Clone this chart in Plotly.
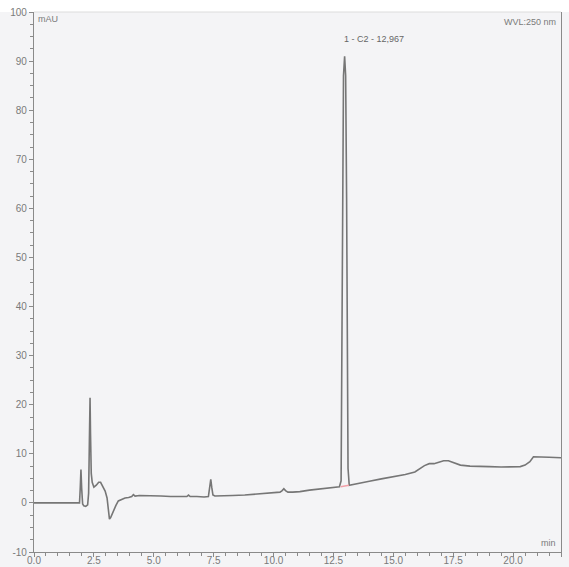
import plotly.graph_objects as go

# Retention time (min) and absorbance (mAU)
time_min = [0.0, 1.50, 1.90, 1.93, 1.96, 1.99, 2.03, 2.08, 2.16, 2.24, 2.28, 2.31, 2.34, 2.36,
            2.39, 2.43, 2.50, 2.60, 2.70, 2.78, 2.88, 2.97, 3.05, 3.10, 3.15, 3.20, 3.31,
            3.42, 3.52, 3.65, 3.80, 3.95, 4.08, 4.15, 4.22, 4.40, 4.70, 4.97, 5.30, 5.70,
            6.10, 6.38, 6.45, 6.52, 6.80, 7.10, 7.28, 7.34, 7.38, 7.42, 7.47, 7.55, 7.90,
            8.30, 8.80, 9.30, 9.70, 10.00, 10.27, 10.36, 10.43, 10.50, 10.60, 10.80,
            11.10, 11.50, 12.00, 12.40, 12.75, 12.82, 12.85, 12.88, 12.92, 12.967, 13.01,
            13.05, 13.08, 13.11, 13.16, 13.25, 13.60, 14.00, 14.50, 15.00, 15.50, 15.90,
            16.10, 16.30, 16.50, 16.70, 16.90, 17.10, 17.30, 17.50, 17.80, 18.20, 18.60,
            19.00, 19.50, 20.00, 20.30, 20.50, 20.70, 20.85, 21.00, 21.50, 22.00]
absorbance = [0.0, 0.0, 0.0, 3.0, 6.8, 3.0, -0.2, -0.6, -0.7, -0.4, 2.0, 12.0, 21.4, 14.0,
              6.0, 4.2, 3.2, 3.6, 4.2, 4.2, 3.4, 2.4, 1.0, -1.0, -3.3, -3.0, -1.6,
              -0.5, 0.4, 0.7, 1.0, 1.1, 1.3, 1.7, 1.4, 1.5, 1.5, 1.5, 1.4, 1.3,
              1.3, 1.3, 1.6, 1.3, 1.3, 1.2, 1.3, 3.0, 4.8, 3.2, 1.6, 1.4, 1.4,
              1.5, 1.6, 1.8, 1.9, 2.0, 2.2, 2.5, 2.9, 2.5, 2.2, 2.2,
              2.3, 2.6, 2.9, 3.1, 3.3, 4.5, 25.0, 65.0, 87.0, 91.0, 87.0,
              62.0, 25.0, 7.0, 3.6, 3.7, 4.0, 4.4, 4.9, 5.3, 5.8, 6.3,
              6.9, 7.6, 8.0, 8.0, 8.3, 8.6, 8.6, 8.2, 7.7, 7.5, 7.5,
              7.4, 7.3, 7.3, 7.4, 7.7, 8.4, 9.4, 9.4, 9.3, 9.2]

# Integration baseline under peak 1
base_time = [12.80, 13.15]
base_value = [3.3, 3.6]

x_tick_values = [0, 2.5, 5, 7.5, 10, 12.5, 15, 17.5, 20, 22]
x_tick_labels = ["0.0", "2.5", "5.0", "7.5", "10.0", "12.5", "15.0", "17.5", "20.0", "22.0"]
y_tick_values = [-10, 0, 10, 20, 30, 40, 50, 60, 70, 80, 90, 100]
y_tick_labels = ["-10", "0", "10", "20", "30", "40", "50", "60", "70", "80", "90", "100"]

peak_label = "1 - C2 - 12,967"
peak_time = 12.967
peak_height = 91.0

axis_color = "#8a8a8a"
text_color = "#7a7a7a"
bg = "#f4f4f6"

fig = go.Figure()
fig.add_trace(go.Scatter(x=time_min, y=absorbance, mode="lines",
                         line=dict(color="#767676", width=1.6), hoverinfo="skip"))
fig.add_trace(go.Scatter(x=base_time, y=base_value, mode="lines",
                         line=dict(color="#f2a0a8", width=1.4), hoverinfo="skip"))

fig.update_layout(
    width=569, height=567,
    margin=dict(l=34, r=8, t=12, b=15),
    paper_bgcolor=bg, plot_bgcolor=bg,
    showlegend=False,
    font=dict(family="Liberation Sans, Arial, sans-serif", size=10, color=text_color),
    xaxis=dict(range=[0, 22], tickmode="array", tickvals=x_tick_values, ticktext=x_tick_labels,
               automargin=False, ticklabelstandoff=-5,
               showgrid=False, zeroline=False, showline=True, linecolor=axis_color, linewidth=1.2,
               ticks="outside", ticklen=4, tickcolor=axis_color, tickwidth=1,
               minor=dict(dtick=0.5, tick0=0, ticks="outside", ticklen=3, tickcolor=axis_color, showgrid=False),
               tickfont=dict(size=10, color=text_color)),
    yaxis=dict(range=[-10, 100], tickmode="array", tickvals=y_tick_values, ticktext=y_tick_labels,
               automargin=False,
               showgrid=False, zeroline=False, showline=True, linecolor=axis_color, linewidth=1.2,
               mirror=True,
               ticks="outside", ticklen=4, tickcolor=axis_color, tickwidth=1,
               minor=dict(dtick=2.5, tick0=0, ticks="outside", ticklen=3, tickcolor=axis_color, showgrid=False),
               tickfont=dict(size=10, color=text_color)),
    shapes=[
        dict(type="rect", xref="paper", yref="paper", x0=-0.1, x1=1.1, y0=1.0, y1=1.05,
             fillcolor="white", line=dict(width=0), layer="below"),
        dict(type="line", xref="paper", yref="paper", x0=0, x1=1, y0=1, y1=1,
             line=dict(color="#dcdcdc", width=1)),
    ],
    annotations=[
        dict(text="mAU", xref="paper", yref="paper", x=0.003, y=1.0, xanchor="left", yanchor="top",
             showarrow=False, font=dict(size=9, color=text_color)),
        dict(text="WVL:250 nm", xref="paper", yref="paper", x=0.995, y=0.994, xanchor="right", yanchor="top",
             showarrow=False, font=dict(size=9, color=text_color)),
        dict(text=peak_label, x=peak_time, y=peak_height, xref="x", yref="y",
             xanchor="left", yanchor="bottom", xshift=-3, yshift=10,
             showarrow=False, font=dict(size=9, color="#666666")),
        dict(text="min", xref="paper", yref="paper", x=0.995, y=0.003, xanchor="right", yanchor="bottom",
             showarrow=False, font=dict(size=9, color=text_color)),
    ],
)

fig.write_html("out.html", config={"displayModeBar": False},
               post_script="document.body.style.margin='0px';document.body.style.overflow='hidden';")
